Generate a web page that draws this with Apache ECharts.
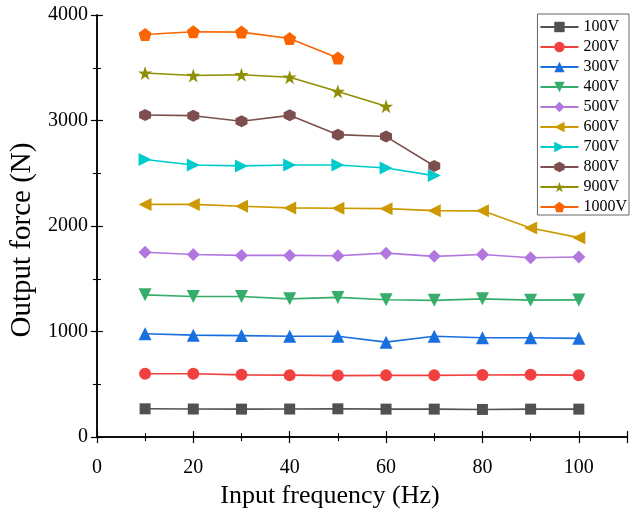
<!DOCTYPE html>
<html><head><meta charset="utf-8">
<script src="https://cdn.jsdelivr.net/npm/echarts@6/dist/echarts.min.js"></script>
<style>html,body{margin:0;padding:0;background:#fff}#c{width:630px;height:514px}</style>
</head><body><div id="c"></div>
<script>
const freqs = [10,20,30,40,50,60,70,80,90,100];
const seriesNames = ['100V','200V','300V','400V','500V','600V','700V','800V','900V','1000V'];
const v100 = [268,266,265,266,268,265,265,262,265,265];
const v200 = [600,600,590,587,583,585,585,588,590,587];
const v300 = [980,966,962,955,955,900,955,942,942,936];
const v400 = [1348,1332,1332,1310,1324,1302,1296,1310,1298,1300];
const v500 = [1752,1730,1722,1722,1718,1743,1713,1730,1700,1706];
const v600 = [2205,2205,2188,2172,2168,2165,2146,2144,1982,1890];
const v700 = [2630,2578,2570,2578,2578,2550,2478];
const v800 = [3052,3046,2993,3049,2866,2848,2569];
const v900 = [3450,3427,3434,3410,3275,3135];
const v1000 = [3815,3841,3838,3777,3593];
const allValues = [v100,v200,v300,v400,v500,v600,v700,v800,v900,v1000];

const colors = ['#515151','#F14040','#1A6FDF','#37AD6B','#B177DE','#CC9900','#00CBCC','#7D4E4E','#8E8E00','#FB6501'];
const hexPath = 'path://M50,0 L93.3,25 L93.3,75 L50,100 L6.7,75 L6.7,25 Z';
const starPath = 'path://M50,0 L61.8,35.4 L99,35.4 L69,57.3 L80.4,92.7 L50,70.8 L19.6,92.7 L31,57.3 L1,35.4 L38.2,35.4 Z';
const pentPath = 'path://M50,0 L97.6,34.5 L79.4,90.5 L20.6,90.5 L2.4,34.5 Z';
const symbols = [
  {s:'rect',r:0,z:11},{s:'circle',r:0,z:12},{s:'triangle',r:0,z:13},{s:'triangle',r:180,z:13},
  {s:'diamond',r:0,z:13},{s:'triangle',r:90,z:13},{s:'triangle',r:-90,z:13},{s:hexPath,r:0,z:12},
  {s:starPath,r:0,z:14},{s:pentPath,r:0,z:13}
];

const font = '"Liberation Serif","Times New Roman",serif';
const series = seriesNames.map((n,i)=>({
  name:n, type:'line',
  data: allValues[i].map((v,j)=>[freqs[j],v]),
  symbol: symbols[i].s, symbolRotate: symbols[i].r, symbolSize: symbols[i].z,
  showAllSymbol:true,
  lineStyle:{color:colors[i],width:1.6},
  itemStyle:{color:colors[i]},
  emphasis:{disabled:true},
  animation:false
}));

const chart = echarts.init(document.getElementById('c'),null,{renderer:'canvas'});
const axLine = {show:true,lineStyle:{color:'#000',width:1.5}};
const tick = {show:true,inside:true,length:6,lineStyle:{color:'#000',width:1.2}};
const minor = {show:true,splitNumber:2,length:4,lineStyle:{color:'#000',width:1.1}};
chart.setOption({
  animation:false,
  color:colors,
  grid:{left:89,right:2,top:15,bottom:63,containLabel:false},
  legend:{
    orient:'vertical', right:1, top:14,
    data:seriesNames,
    itemWidth:38, itemHeight:13, itemGap:4,
    padding:[5,2,0,2],
    borderColor:'#666', borderWidth:1, backgroundColor:'#fff',
    textStyle:{fontFamily:font,fontSize:16,lineHeight:16,color:'#000'}
  },
  xAxis:[{
    type:'value', min:0, max:110, interval:20,
    axisLine:axLine, axisTick:tick, minorTick:minor,
    splitLine:{show:false},
    axisLabel:{fontFamily:font,fontSize:20,color:'#000',margin:21,
      formatter:v=> v>100?'':String(v)},
    name:'Input frequency (Hz)', nameLocation:'middle', nameGap:44,
    nameTextStyle:{fontFamily:font,fontSize:26,color:'#000',padding:[0,64,0,0]}
  },{
    type:'value', position:'top', min:0, max:110, interval:20,
    axisLine:axLine, axisTick:tick, minorTick:minor,
    axisLabel:{show:false}, splitLine:{show:false}
  }],
  yAxis:[{
    type:'value', min:0, max:4000, interval:1000,
    axisLine:axLine, axisTick:tick, minorTick:minor,
    splitLine:{show:false},
    axisLabel:{fontFamily:font,fontSize:20,color:'#000',margin:9,formatter:v=>String(v)},
    name:'Output force (N)', nameLocation:'middle', nameGap:53, nameRotate:90,
    nameTextStyle:{fontFamily:font,fontSize:29,color:'#000',padding:[0,28,0,0]}
  },{
    type:'value', position:'right', min:0, max:4000, interval:1000,
    axisLine:axLine, axisTick:tick, minorTick:minor,
    axisLabel:{show:false}, splitLine:{show:false}
  }],
  series:series
});
</script></body></html>
